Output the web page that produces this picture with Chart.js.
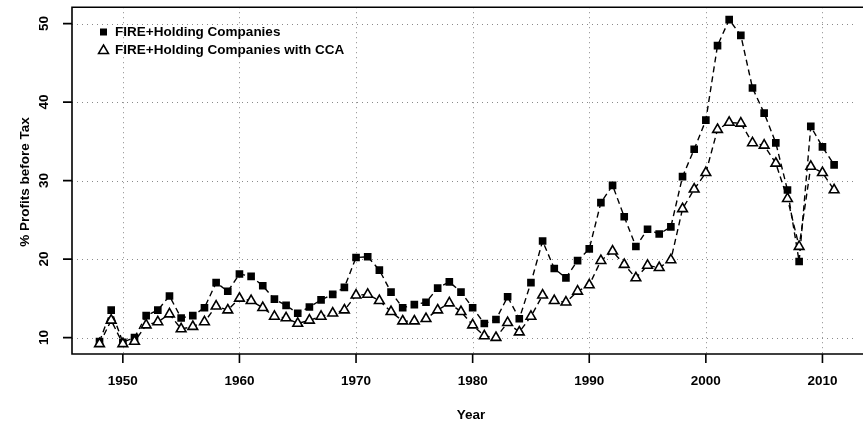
<!DOCTYPE html>
<html><head><meta charset="utf-8">
<script src="https://cdn.jsdelivr.net/npm/chart.js@4/dist/chart.umd.min.js"></script>
<style>html,body{margin:0;padding:0;background:#fff;overflow:hidden}</style>
</head>
<body><canvas id="c" width="863" height="425"></canvas>
<script>
const years = [1948,1949,1950,1951,1952,1953,1954,1955,1956,1957,1958,1959,
  1960,1961,1962,1963,1964,1965,1966,1967,1968,1969,
  1970,1971,1972,1973,1974,1975,1976,1977,1978,1979,
  1980,1981,1982,1983,1984,1985,1986,1987,1988,1989,
  1990,1991,1992,1993,1994,1995,1996,1997,1998,1999,
  2000,2001,2002,2003,2004,2005,2006,2007,2008,2009,2010,2011];
const fireHolding = [9.5,13.5,9.4,10.0,12.8,13.5,15.3,12.5,12.8,13.8,17.0,15.9,
  18.1,17.8,16.6,14.9,14.1,13.1,13.9,14.8,15.5,16.4,
  20.2,20.3,18.6,15.8,13.8,14.2,14.5,16.3,17.1,15.8,
  13.8,11.8,12.3,15.2,12.4,17.0,22.3,18.8,17.6,19.8,
  21.3,27.2,29.4,25.4,21.6,23.8,23.2,24.1,30.5,34.0,
  37.7,47.2,50.5,48.5,41.8,38.6,34.8,28.8,19.7,36.9,34.3,32.0];
const fireHoldingCCA = [9.2,12.2,9.2,9.5,11.6,12.0,13.0,11.1,11.4,12.0,14.0,13.5,
  15.0,14.7,13.8,12.7,12.5,11.8,12.2,12.7,13.1,13.5,
  15.4,15.5,14.7,13.3,12.1,12.1,12.4,13.5,14.4,13.3,
  11.6,10.2,10.0,11.9,10.7,12.7,15.4,14.7,14.5,15.9,
  16.7,19.8,21.0,19.3,17.6,19.2,18.9,19.9,26.4,28.9,
  31.0,36.5,37.4,37.3,34.8,34.5,32.2,27.7,21.6,31.8,31.0,28.8];
const seriesNames = ["FIRE+Holding Companies", "FIRE+Holding Companies with CCA"];
const xTicks = [1950,1960,1970,1980,1990,2000,2010];
const yTicks = [10,20,30,40,50];
const xTitle = "Year";
const yTitle = "% Profits before Tax";

const FONT = 'bold 13.5px "Liberation Sans", Arial, sans-serif';

const rPlugin = {
  id: 'rstyle',
  beforeDatasetsDraw(chart) {
    const {ctx, chartArea: a, scales: {x, y}} = chart;
    ctx.save();
    ctx.strokeStyle = '#8a8a8a';
    ctx.lineWidth = 1;
    ctx.setLineDash([1, 4]);
    xTicks.forEach(t => {
      const px = Math.round(x.getPixelForValue(t)) + 0.5;
      ctx.beginPath(); ctx.moveTo(px, a.top); ctx.lineTo(px, a.bottom); ctx.stroke();
    });
    yTicks.forEach(t => {
      const py = Math.round(y.getPixelForValue(t)) + 0.5;
      ctx.beginPath(); ctx.moveTo(a.left, py); ctx.lineTo(a.right, py); ctx.stroke();
    });
    ctx.restore();
  },
  afterDraw(chart) {
    const {ctx, chartArea: a, scales: {x, y}} = chart;
    ctx.save();
    ctx.strokeStyle = '#000';
    ctx.lineWidth = 1.6;
    ctx.setLineDash([]);
    // box (right side falls outside the picture)
    ctx.beginPath();
    ctx.moveTo(a.right + 10, a.top); ctx.lineTo(a.left, a.top);
    ctx.lineTo(a.left, a.bottom); ctx.lineTo(a.right + 10, a.bottom);
    ctx.stroke();
    // ticks
    ctx.beginPath();
    xTicks.forEach(t => { const px = x.getPixelForValue(t); ctx.moveTo(px, a.bottom); ctx.lineTo(px, a.bottom + 9); });
    yTicks.forEach(t => { const py = y.getPixelForValue(t); ctx.moveTo(a.left, py); ctx.lineTo(a.left - 9, py); });
    ctx.stroke();
    // tick labels
    ctx.fillStyle = '#000';
    ctx.font = FONT;
    ctx.textAlign = 'center'; ctx.textBaseline = 'middle';
    xTicks.forEach(t => ctx.fillText(String(t), x.getPixelForValue(t), a.bottom + 27));
    yTicks.forEach(t => {
      ctx.save(); ctx.translate(a.left - 28, y.getPixelForValue(t)); ctx.rotate(-Math.PI / 2);
      ctx.fillText(String(t), 0, 0); ctx.restore();
    });
    // titles
    ctx.fillText(xTitle, 471, 415);
    ctx.save(); ctx.translate(25, 182); ctx.rotate(-Math.PI / 2); ctx.fillText(yTitle, 0, 0); ctx.restore();
    // legend
    ctx.textAlign = 'left';
    const lx = 103.5, ly1 = 32, ly2 = 50;
    ctx.fillRect(lx - 3.5, ly1 - 3.5, 7, 7);
    ctx.lineWidth = 1.5;
    ctx.beginPath(); ctx.moveTo(lx, ly2 - 5); ctx.lineTo(lx + 5, ly2 + 3.5); ctx.lineTo(lx - 5, ly2 + 3.5); ctx.closePath();
    ctx.fillStyle = '#fff'; ctx.fill(); ctx.stroke();
    ctx.fillStyle = '#000';
    ctx.fillText(seriesNames[0], 115, ly1);
    ctx.fillText(seriesNames[1], 115, ly2);
    ctx.restore();
  }
};

const toPts = arr => years.map((yr, i) => ({x: yr, y: arr[i]}));

new Chart(document.getElementById('c'), {
  type: 'line',
  data: {
    datasets: [
      {
        label: seriesNames[1], data: toPts(fireHoldingCCA),
        borderColor: '#000', borderWidth: 1.4, borderDash: [6, 4],
        pointStyle: 'triangle', pointRadius: 5.6, pointBorderWidth: 1.6,
        pointBackgroundColor: '#fff', pointBorderColor: '#000', tension: 0, fill: false
      },
      {
        label: seriesNames[0], data: toPts(fireHolding),
        borderColor: '#000', borderWidth: 1.4, borderDash: [6, 4],
        pointStyle: 'rect', pointRadius: 5.4, pointBorderWidth: 0,
        pointBackgroundColor: '#000', pointBorderColor: '#000', tension: 0, fill: false
      }
    ]
  },
  options: {
    responsive: false, animation: false, devicePixelRatio: 1,
    layout: {padding: {left: 72, top: 5, right: 0, bottom: 71}},
    plugins: {legend: {display: false}, tooltip: {enabled: false}},
    scales: {
      x: {type: 'linear', min: 1945.64, max: 2012.86, display: false},
      y: {type: 'linear', min: 7.91, max: 52.09, display: false}
    }
  },
  plugins: [rPlugin]
});
</script>
</body></html>
